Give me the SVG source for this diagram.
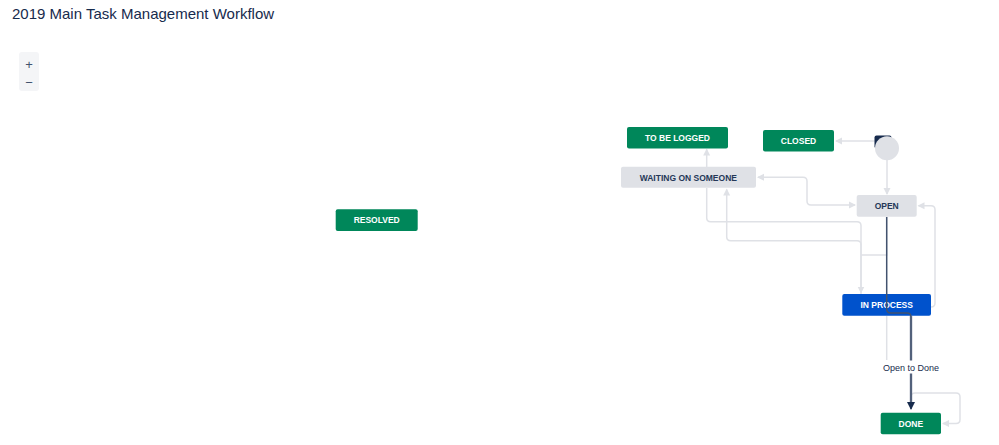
<svg xmlns="http://www.w3.org/2000/svg" width="999" height="445" viewBox="0 0 999 445">
<defs>
<style>
.title{font-family:"Liberation Sans",Arial,sans-serif;font-size:15px;fill:#172B4D}
.node text{font-family:"Liberation Sans",Arial,sans-serif;font-size:8.5px;font-weight:bold;text-anchor:middle}
.green rect{fill:#00875A}
.green text,.blue text{fill:#FFFFFF}
.blue rect{fill:#0052CC}
.grey rect{fill:#DFE1E6}
.grey text{fill:#253858}
.conn{fill:none;stroke:#DFE1E6;stroke-width:1.5}
.lbl{font-family:"Liberation Sans",Arial,sans-serif;font-size:9px;fill:#172B4D;text-anchor:middle}
.zoom{font-family:"Liberation Sans",Arial,sans-serif;font-size:13px;fill:#42526E;text-anchor:middle}
</style>
<marker id="ah" markerWidth="8" markerHeight="8" refX="6" refY="4" orient="auto-start-reverse" markerUnits="userSpaceOnUse">
<path d="M0,0.5 L7,4 L0,7.5 Z" fill="#DFE1E6"/>
</marker>
<marker id="ahd" markerWidth="10" markerHeight="10" refX="7" refY="4.5" orient="auto" markerUnits="userSpaceOnUse">
<path d="M0,0.5 L8,4.5 L0,8.5 Z" fill="#172B4D"/>
</marker>
</defs>
<rect width="999" height="445" fill="#FFFFFF"/>
<text class="title" x="12" y="19">2019 Main Task Management Workflow</text>
<g id="zoom-controls">
<rect x="19" y="52" width="20" height="39" rx="3" fill="#F4F5F7"/>
<text class="zoom" x="29" y="69">+</text>
<text class="zoom" x="29" y="87">−</text>
</g>
<g id="connectors">
<path class="conn" d="M877 141 H836" marker-end="url(#ah)"/>
<path class="conn" d="M887 160 V194" marker-end="url(#ah)"/>
<path class="conn" d="M706.7 167 V149.5" marker-end="url(#ah)"/>
<path class="conn" d="M758 177.3 H803 Q807 177.3 807 181.3 V201 Q807 205 811 205 H855" marker-start="url(#ah)" marker-end="url(#ah)"/>
<path class="conn" d="M706.7 188 V217.7 Q706.7 221.7 710.7 221.7 H857 Q861 221.7 861 225.7 V292.5" marker-end="url(#ah)"/>
<path class="conn" d="M861 294 V244.7 Q861 240.7 857 240.7 H730.7 Q726.7 240.7 726.7 236.7 V189.5" marker-end="url(#ah)"/>
<path class="conn" d="M886.7 217 V255 H861"/>
<path class="conn" d="M911 316 V311 Q911 307 915 307 H931 Q935 307 935 303 V209.7 Q935 205.7 931 205.7 H918.5" marker-end="url(#ah)"/>
<path class="conn" d="M886.7 316 V360"/>
<path class="conn" d="M911 397 Q911 393 915 393 H956 Q960 393 960 397 V419.5 Q960 423.5 956 423.5 H943" marker-end="url(#ah)"/>
</g>
<g id="nodes">
<g id="to-be-logged" class="node green"><rect x="627" y="127" width="101" height="21.5" rx="2"/><text x="677.5" y="141">TO BE LOGGED</text></g>
<g id="closed" class="node green"><rect x="763" y="130" width="71" height="21.5" rx="2"/><text x="798.5" y="144">CLOSED</text></g>
<g id="start"><rect x="874.5" y="135.5" width="17" height="13" rx="2" fill="#172B4D"/><circle cx="887" cy="148.3" r="12" fill="#DFE1E6"/></g>
<g id="waiting-on-someone" class="node grey"><rect x="621" y="166.7" width="135" height="21" rx="2"/><text x="688.3" y="180.5">WAITING ON SOMEONE</text></g>
<g id="open" class="node grey"><rect x="856.7" y="195" width="60" height="21.7" rx="2"/><text x="886.7" y="209">OPEN</text></g>
<g id="resolved" class="node green"><rect x="335.7" y="209.3" width="82" height="21.7" rx="2"/><text x="376.7" y="223.3">RESOLVED</text></g>
<g id="in-process" class="node blue"><rect x="842.3" y="294" width="88.7" height="21.7" rx="2"/><text x="886.7" y="308">IN PROCESS</text></g>
<g id="done" class="node green"><rect x="880.7" y="412.7" width="60.3" height="21.5" rx="2"/><text x="910.8" y="426.5">DONE</text></g>
</g>
<g id="highlight-transition">
<path d="M911 316 V404" fill="none" stroke="#8993A4" stroke-width="2.5"/>
<path d="M886.7 217 V309 Q886.7 313 890.7 313 H907 Q911 313 911 317 V409" fill="none" stroke="#42526E" stroke-width="1.5" marker-end="url(#ahd)"/>
<rect x="881" y="360.5" width="60" height="13" fill="#FFFFFF"/>
<text class="lbl" x="911" y="370.5">Open to Done</text>
</g>
</svg>
